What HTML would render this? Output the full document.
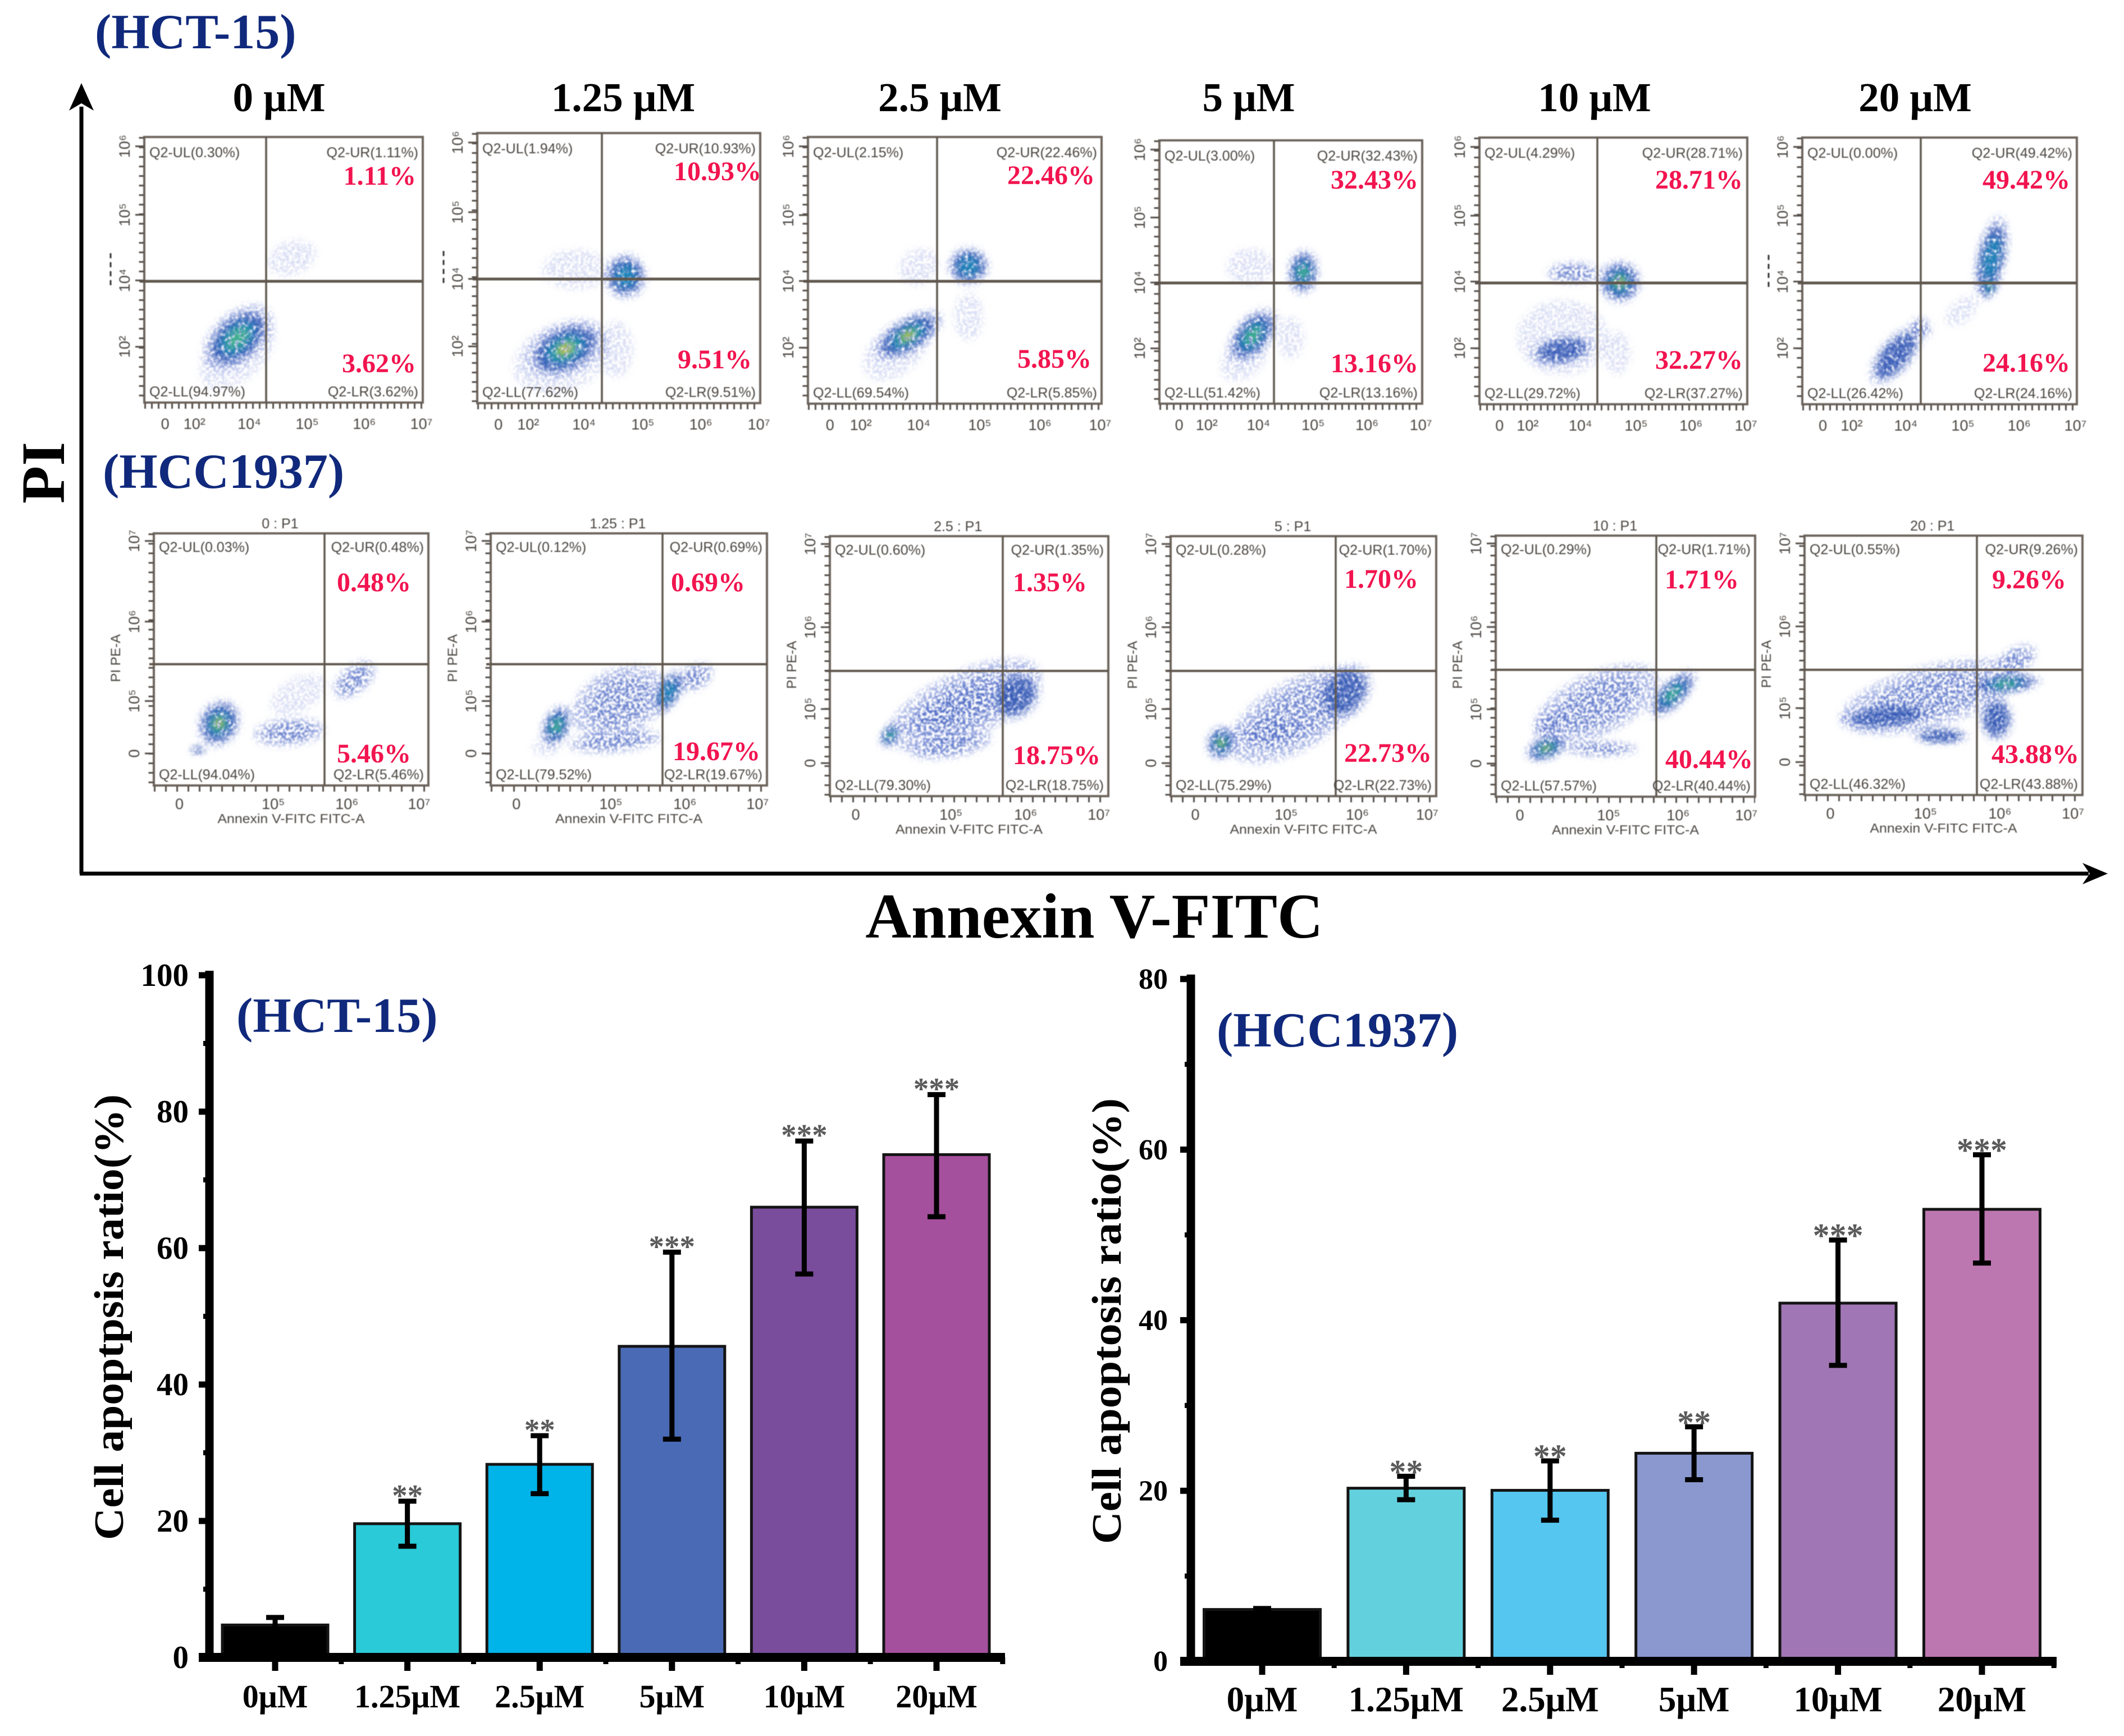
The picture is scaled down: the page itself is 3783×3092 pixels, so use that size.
<!DOCTYPE html>
<html lang="en">
<head>
<meta charset="utf-8">
<title>Apoptosis flow cytometry and bar charts</title>
<style>
html,body{margin:0;padding:0;background:#fff;}
svg{display:block;font-family:"Liberation Serif",serif;}
</style>
</head>
<body>
<svg id="fig" xmlns="http://www.w3.org/2000/svg" width="3783" height="3092" viewBox="0 0 3783 3092">
  <defs>
    <filter id="grain" x="-5%" y="-5%" width="110%" height="110%" color-interpolation-filters="sRGB">
      <feGaussianBlur in="SourceGraphic" stdDeviation="6" result="b"/>
      <feTurbulence type="fractalNoise" baseFrequency=".2" numOctaves="2" seed="4" result="n"/>
      <feColorMatrix in="n" type="matrix" values="0 0 0 0 0  0 0 0 0 0  0 0 0 0 0  6 0 0 0 -2.5" result="m"/>
      <feComposite in="b" in2="m" operator="in" result="c"/>
      <feGaussianBlur in="c" stdDeviation="1.1"/>
    </filter>
    <filter id="core" x="-5%" y="-5%" width="110%" height="110%" color-interpolation-filters="sRGB">
      <feGaussianBlur in="SourceGraphic" stdDeviation="6" result="b"/>
      <feTurbulence type="fractalNoise" baseFrequency=".16" numOctaves="2" seed="9" result="n"/>
      <feColorMatrix in="n" type="matrix" values="0 0 0 0 0  0 0 0 0 0  0 0 0 0 0  4 0 0 0 -1.2" result="m"/>
      <feComposite in="b" in2="m" operator="in" result="c"/>
      <feGaussianBlur in="c" stdDeviation="1"/>
    </filter>
    <filter id="soft" x="-2%" y="-2%" width="104%" height="104%"><feGaussianBlur stdDeviation="0.9"/></filter>
    <filter id="softer" x="-2%" y="-2%" width="104%" height="104%"><feGaussianBlur stdDeviation="0.8"/></filter>
  </defs>

  <text x="169" y="86" font-size="88" font-weight="bold" fill="#10297c">(HCT-15)</text>
  <text x="183" y="869" font-size="88" font-weight="bold" fill="#10297c">(HCC1937)</text>
  <text transform="translate(114,842) rotate(-90)" text-anchor="middle" font-size="110" font-weight="bold" fill="#000">PI</text>
  <text x="1949" y="1670" text-anchor="middle" font-size="113" font-weight="bold" fill="#000">Annexin V-FITC</text>

  <g>
    <line x1="145" y1="190" x2="145" y2="1556" stroke="#000" stroke-width="7"/>
    <path d="M145 148 L167 197 L145 184 L123 197 Z" fill="#000"/>
  </g>
  <g>
    <line x1="142" y1="1556" x2="3720" y2="1556" stroke="#000" stroke-width="7"/>
    <path d="M3754 1556 L3709 1537 L3722 1556 L3709 1575 Z" fill="#000"/>
  </g>
  <g id="flow"></g>
  <g id="bars"></g>
</svg>

<script>
/* ---------- bar chart data ---------- */
const categories = ['0μM', '1.25μM', '2.5μM', '5μM', '10μM', '20μM'];
const hctValues = [4.75, 19.6, 28.3, 45.6, 66.0, 73.7];
const hctErrHigh = [5.85, 22.9, 32.5, 59.4, 75.7, 82.5];
const hctErrLow = [4.2, 16.3, 24.0, 32.0, 56.2, 64.6];
const hctStars = ['', '**', '**', '***', '***', '***'];
const hctTicks = [0, 20, 40, 60, 80, 100];
const hctMinor = [10, 30, 50, 70, 90];
const hccValues = [6.08, 20.3, 20.05, 24.4, 42.0, 53.0];
const hccErrHigh = [6.2, 21.7, 23.5, 27.5, 49.4, 59.4];
const hccErrLow = [5.9, 18.95, 16.55, 21.3, 34.7, 46.7];
const hccStars = ['', '**', '**', '**', '***', '***'];
const hccTicks = [0, 20, 40, 60, 80];
const hccMinor = [10, 30, 50, 70];
const hctColors = ['#000000', '#2acad8', '#00b3e8', '#4a6ab5', '#7a4c9c', '#a5509c'];
const hccColors = ['#000000', '#63d1dd', '#55c6ef', '#8a98cf', '#a176b4', '#bc76b0'];

/* ---------- flow cytometry data ---------- */
const doseTitles = ['0 μM', '1.25 μM', '2.5 μM', '5 μM', '10 μM', '20 μM'];
const doseCenters = [497, 1110, 1674, 2224, 2840, 3411];
const gateTitles = ['0 : P1', '1.25 : P1', '2.5 : P1', '5 : P1', '10 : P1', '20 : P1'];
/* quadrant percentages: UL, UR, LL, LR */
const quadrantsHct = [
  ['0.30','1.11','94.97','3.62'], ['1.94','10.93','77.62','9.51'], ['2.15','22.46','69.54','5.85'],
  ['3.00','32.43','51.42','13.16'], ['4.29','28.71','29.72','37.27'], ['0.00','49.42','26.42','24.16']
];
const quadrantsHcc = [
  ['0.03','0.48','94.04','5.46'], ['0.12','0.69','79.52','19.67'], ['0.60','1.35','79.30','18.75'],
  ['0.28','1.70','75.29','22.73'], ['0.29','1.71','57.57','40.44'], ['0.55','9.26','46.32','43.88']
];
const redLowerHct = ['3.62', '9.51', '5.85', '13.16', '32.27', '24.16'];
const redLowerHcc = ['5.46', '19.67', '18.75', '22.73', '40.44', '43.88'];
/* panel frames: left, right, top, bottom, gateX, gateY */
const framesHct = [
  [257,753,244,717,474,501], [850,1354,237,718,1072,497], [1439,1962,244,719,1669,501],
  [2065,2533,250,719,2269,504], [2635,3112,245,720,2845,504], [3210,3699,245,720,3421,504]
];
const framesHcc = [
  [274,763,950,1399,578,1183], [874,1366,950,1399,1180,1183], [1478,1974,955,1418,1786,1195],
  [2085,2558,955,1418,2379,1195], [2664,3126,954,1419,2950,1193], [3214,3709,954,1416,3521,1193]
];
/* red label anchors: upper right x, upper base y, lower right x, lower base y */
const redAnchorsHct = [
  [741,329,741,663], [1356,321,1339,656], [1950,328,1944,655],
  [2526,336,2526,663], [3104,336,3104,657], [3687,336,3687,662]
];
const redAnchorsHcc = [
  [732,1053,732,1358], [1327,1053,1354,1354], [1936,1053,1960,1361],
  [2526,1047,2550,1357], [3097,1048,3122,1368], [3680,1048,3703,1359]
];
/* event density regions in panel units: cx, cy, rx, ry, rotation, density level */
const densityHct = [
  [[.335,.757,.15,.09,-42,3], [.53,.455,.09,.06,-20,-1], [.335,.82,.16,.09,-40,-1]],
  [[.311,.80,.15,.09,-25,4], [.524,.53,.075,.08,0,2], [.35,.505,.12,.07,0,-1], [.49,.80,.06,.10,0,-1], [.30,.83,.18,.12,-20,-1]],
  [[.34,.745,.135,.06,-32,4], [.547,.484,.07,.065,0,2], [.378,.486,.07,.06,-30,-1], [.547,.674,.05,.08,0,-1], [.30,.80,.13,.08,-40,-1]],
  [[.355,.742,.125,.07,-50,3], [.547,.50,.085,.06,-85,3], [.346,.48,.09,.07,0,-1], [.50,.75,.05,.08,0,-1], [.32,.83,.10,.07,-40,-1]],
  [[.524,.541,.08,.08,0,4], [.308,.798,.12,.055,-10,1], [.352,.507,.10,.04,0,0], [.514,.807,.05,.08,0,-1], [.31,.75,.17,.14,0,-1]],
  [[.689,.45,.155,.055,-78,2], [.681,.554,.05,.03,-70,3], [.34,.817,.13,.06,-50,1], [.43,.716,.04,.04,-40,0], [.58,.65,.07,.04,-40,-1]]
];
const densityHcc = [
  [[.237,.753,.09,.075,-60,4], [.493,.788,.13,.05,-5,0], [.73,.58,.09,.05,-40,0], [.526,.64,.11,.06,-30,-1], [.16,.86,.03,.012,-5,1]],
  [[.238,.764,.08,.05,-65,3], [.642,.63,.09,.045,-60,2], [.45,.824,.17,.04,-5,0], [.466,.668,.18,.12,-25,0], [.2,.85,.05,.03,0,-1], [.74,.57,.07,.045,-30,0]],
  [[.216,.765,.05,.028,-55,3], [.482,.65,.30,.12,-25,0], [.45,.66,.2,.07,-25,0], [.666,.615,.10,.08,-40,1], [.434,.803,.15,.045,-10,0]],
  [[.19,.795,.065,.055,-70,4], [.368,.75,.14,.05,-10,0], [.655,.60,.12,.09,-50,1], [.47,.69,.28,.13,-30,0]],
  [[.195,.814,.085,.045,-20,4], [.682,.606,.12,.05,-45,3], [.407,.817,.14,.028,0,0], [.39,.645,.26,.12,-25,0], [.22,.72,.08,.05,-30,0]],
  [[.723,.571,.13,.035,-5,3], [.69,.706,.06,.08,0,1], [.293,.697,.17,.045,-5,1], [.49,.773,.10,.028,0,1], [.45,.62,.33,.11,-15,0], [.76,.48,.08,.045,-30,0]]
];
/* axis tick labels */
const hctXTicks = ['0', '10²', '10⁴', '10⁵', '10⁶', '10⁷'];
const hctXTickAt = [.075, .18, .377, .585, .79, .995];
const hctYTicks = ['10⁶', '10⁵', '10⁴', '10²'];
const hctYTickAt = [.035, .293, .54, .79];
const hccXTicks = ['0', '10⁵', '10⁶', '10⁷'];
const hccXTickAt = [.093, .435, .703, .966];
const hccYTicks = ['10⁷', '10⁶', '10⁵', '0'];
const hccYTickAt = [.03, .35, .665, .873];
const clippedAxisMarks = [0, 1, 5];

const NS = 'http://www.w3.org/2000/svg';
function mk(tag, parent, props, txt) {
  const el = document.createElementNS(NS, tag);
  for (const k in props) el.setAttribute(k, props[k]);
  if (txt !== undefined) el.textContent = txt;
  parent.appendChild(el);
  return el;
}

/* ---------- flow panels ---------- */
const flowRoot = document.getElementById('flow');
const SANS = '"Liberation Sans","DejaVu Sans",sans-serif';

function drawDensity(g, regions, L, W, T, H) {
  const haze = mk('g', g, { filter: 'url(#grain)' });
  
  
  const core = mk('g', g, { filter: 'url(#core)' });
  
  
  regions.forEach(function (r) {
    const cx = L + r[0] * W, cy = T + r[1] * H, rx = r[2] * W, ry = r[3] * W, lv = r[5];
    const tf = 'rotate(' + r[4] + ' ' + cx + ' ' + cy + ')';
    function ell(parent, s, fill, op) {
      const e = mk('ellipse', parent, { cx: cx, cy: cy, rx: rx * s, ry: ry * s, fill: fill, 'fill-opacity': op, transform: tf });
      
      
    }
    if (lv < 0) { ell(haze, 1, '#8494dc', .3); return; }
    ell(haze, 1, '#6a80d2', .55);
    ell(haze, .68, '#3f5fbd', .55);
    if (lv >= 1) ell(core, .75, '#2f55b2', .85);
    if (lv >= 2) ell(core, .5, '#1a86b6', .95);
    if (lv >= 3) ell(core, .32, '#3fb08c', 1);
    if (lv >= 4) ell(core, .17, '#e6c63a', 1);
  });
}

function drawPanel(frame, quad, redLow, anchor, density, idx, isHcc) {
  const L = frame[0], R = frame[1], T = frame[2], B = frame[3], GX = frame[4], GY = frame[5];
  const W = R - L, H = B - T;
  const g = mk('g', flowRoot, {});
  
  

  drawDensity(g, density, L, W, T, H);

  const art = mk('g', g, { filter: 'url(#soft)' });
  
  
  const frameRect = mk('rect', art, { x: L, y: T, width: W, height: H, fill: 'none', stroke: '#6d655d', 'stroke-width': 4 });
  
  
  const vGate = mk('line', art, { x1: GX, y1: T, x2: GX, y2: B, stroke: '#5e564e', 'stroke-width': 3.5 });
  
  
  const hGate = mk('line', art, { x1: L - 8, y1: GY, x2: R, y2: GY, stroke: '#5e564e', 'stroke-width': isHcc ? 4 : 5 });
  
  
  const xMinor = mk('line', art, { x1: L, y1: B + 6, x2: R, y2: B + 6, stroke: '#57504a', 'stroke-width': 10, 'stroke-dasharray': '3 ' + (isHcc ? 17 : 9) });
  
  
  const yMinor = mk('line', art, { x1: L - 5, y1: T, x2: L - 5, y2: B, stroke: '#57504a', 'stroke-width': 9, 'stroke-dasharray': '3 14' });
  
  

  const xT = isHcc ? hccXTicks : hctXTicks, xA = isHcc ? hccXTickAt : hctXTickAt;
  const yT = isHcc ? hccYTicks : hctYTicks, yA = isHcc ? hccYTickAt : hctYTickAt;
  const labels = mk('g', g, { filter: 'url(#softer)', 'font-family': SANS, fill: '#4a4540' });
  
  
  xT.forEach(function (t, i) {
    const e = mk('text', labels, { x: L + xA[i] * W, y: B + (isHcc ? 42 : 47), 'text-anchor': 'middle', 'font-size': 27 }, t);
    
    
  });
  yT.forEach(function (t, i) {
    const y = T + yA[i] * H;
    const tick = mk('line', art, { x1: L - 16, y1: y, x2: L, y2: y, stroke: '#57504a', 'stroke-width': 3 });
    
    
    const e = mk('text', labels, { transform: 'translate(' + (L - 26) + ',' + y + ') rotate(-90)', 'text-anchor': 'middle', 'font-size': 27 }, t);
    
    
  });

  const c = [
    ['Q2-UL(' + quad[0] + '%)', L + 9, T + (isHcc ? 33 : 36), 'start'],
    ['Q2-UR(' + quad[1] + '%)', R - 8, T + (isHcc ? 33 : 36), 'end'],
    ['Q2-LL(' + quad[2] + '%)', L + 9, B - 11, 'start'],
    ['Q2-LR(' + quad[3] + '%)', R - 8, B - 11, 'end']
  ];
  c.forEach(function (q) {
    const e = mk('text', labels, { x: q[1], y: q[2], 'text-anchor': q[3], 'font-size': 25 }, q[0]);
    
    
  });

  if (isHcc) {
    const ttl = mk('text', labels, { x: L + .46 * W, y: T - 9, 'text-anchor': 'middle', 'font-size': 25 }, gateTitles[idx]);
    
    
    const yl = mk('text', labels, { transform: 'translate(' + (L - 60) + ',' + (T + .495 * H) + ') rotate(-90)', 'text-anchor': 'middle', 'font-size': 24 }, 'PI PE-A');
    
    
    const xl = mk('text', labels, { x: L + .5 * W, y: B + 67, 'text-anchor': 'middle', 'font-size': 23, textLength: 262, lengthAdjust: 'spacingAndGlyphs' }, 'Annexin V-FITC FITC-A');
    
    
  } else if (clippedAxisMarks.indexOf(idx) >= 0) {
    const mark = mk('line', art, { x1: L - 60, y1: GY - 50, x2: L - 60, y2: GY + 7, stroke: '#333', 'stroke-width': 3, 'stroke-dasharray': '9 7' });
    
    
  }

  const up = mk('text', g, { x: anchor[0], y: anchor[1], 'text-anchor': 'end', 'font-size': 48, 'font-weight': 'bold', fill: '#f2144f' }, quad[1] + '%');
  
  
  const low = mk('text', g, { x: anchor[2], y: anchor[3], 'text-anchor': 'end', 'font-size': 48, 'font-weight': 'bold', fill: '#f2144f' }, redLow + '%');
  
  
}

doseTitles.forEach(function (t, i) {
  const e = mk('text', flowRoot, { x: doseCenters[i], y: 198, 'text-anchor': 'middle', 'font-size': 73, 'font-weight': 'bold', fill: '#000' }, t);
  
  
  drawPanel(framesHct[i], quadrantsHct[i], redLowerHct[i], redAnchorsHct[i], densityHct[i], i, false);
  drawPanel(framesHcc[i], quadrantsHcc[i], redLowerHcc[i], redAnchorsHcc[i], densityHcc[i], i, true);
});

/* ---------- bar charts ---------- */
const barRoot = document.getElementById('bars');

function drawBarChart(o) {
  const g = mk('g', barRoot, {});
  
  
  const y = function (v) { return o.y0 - v * o.unit; };
  const x = function (i) { return o.x0 + i * o.step; };
  const top = y(o.ticks[o.ticks.length - 1]);

  o.values.forEach(function (v, i) {
    const bar = mk('rect', g, { x: x(i) - o.bw / 2, y: y(v), width: o.bw, height: y(0) - y(v), fill: o.colors[i], stroke: '#141414', 'stroke-width': 5 });
    
    
  });

  const yAxis = mk('line', g, { x1: o.axisX, y1: top - 8, x2: o.axisX, y2: y(0) + 8, stroke: '#000', 'stroke-width': 15 });
  
  
  const xAxis = mk('line', g, { x1: o.axisX - 19, y1: y(0), x2: o.axisEnd, y2: y(0), stroke: '#000', 'stroke-width': 16 });
  
  

  o.ticks.forEach(function (t) {
    const tick = mk('line', g, { x1: o.axisX - 19, y1: y(t), x2: o.axisX, y2: y(t), stroke: '#000', 'stroke-width': 11 });
    
    
    const lab = mk('text', g, { x: o.tickRight, y: y(t) + o.tickFont * .33, 'text-anchor': 'end', 'font-size': o.tickFont, 'font-weight': 'bold', fill: '#000' }, t);
    
    
  });
  o.minor.forEach(function (t) {
    const tick = mk('line', g, { x1: o.axisX - 11, y1: y(t), x2: o.axisX, y2: y(t), stroke: '#000', 'stroke-width': 9 });
    
    
  });

  o.categories.forEach(function (c, i) {
    const tick = mk('line', g, { x1: x(i), y1: y(0), x2: x(i), y2: y(0) + 24, stroke: '#000', 'stroke-width': 11 });
    
    
    const minor = mk('line', g, { x1: x(i) + o.step / 2, y1: y(0), x2: x(i) + o.step / 2, y2: y(0) + 12, stroke: '#000', 'stroke-width': 9 });
    
    
    const lab = mk('text', g, { x: x(i), y: o.catBase, 'text-anchor': 'middle', 'font-size': o.catFont, 'font-weight': 'bold', fill: '#000' }, c);
    
    
  });

  o.values.forEach(function (v, i) {
    const hi = y(o.high[i]), lo = y(o.low[i]);
    const stem = mk('line', g, { x1: x(i), y1: hi, x2: x(i), y2: lo, stroke: '#000', 'stroke-width': 9 });
    
    
    const capT = mk('line', g, { x1: x(i) - 16, y1: hi, x2: x(i) + 16, y2: hi, stroke: '#000', 'stroke-width': 9 });
    
    
    if (i > 0) {
      const capB = mk('line', g, { x1: x(i) - 16, y1: lo, x2: x(i) + 16, y2: lo, stroke: '#000', 'stroke-width': 9 });
      
      
    }
    if (o.stars[i]) {
      const st = mk('text', g, { x: x(i), y: hi + o.starOffset, 'text-anchor': 'middle', 'font-size': o.starFont, 'font-weight': 'bold', fill: '#5a5a5a' }, o.stars[i]);
      
      
    }
  });

  const yt = mk('text', g, { transform: 'translate(' + o.titleX + ',' + o.titleY + ') rotate(-90)', 'text-anchor': 'middle', 'font-size': 74, 'font-weight': 'bold', fill: '#000', textLength: 794, lengthAdjust: 'spacingAndGlyphs' }, o.yTitle);
  
  
  const ct = mk('text', g, { x: o.labelX, y: o.labelY, 'font-size': o.labelFont, 'font-weight': 'bold', fill: '#10297c' }, o.label);
  
  
}

drawBarChart({
  name: 'hct15-bar-chart', categories: categories, values: hctValues, high: hctErrHigh, low: hctErrLow,
  stars: hctStars, ticks: hctTicks, minor: hctMinor, colors: hctColors,
  y0: 2952, unit: 12.15, x0: 490, step: 235.6, bw: 188, axisX: 373, axisEnd: 1790, tickRight: 336, tickFont: 57,
  catBase: 3041, catFont: 58, starFont: 55, starOffset: 8, titleX: 219, titleY: 2346,
  yTitle: 'Cell apoptpsis ratio(%)', label: '(HCT-15)', labelX: 421, labelY: 1838, labelFont: 88
});
drawBarChart({
  name: 'hcc1937-bar-chart', categories: categories, values: hccValues, high: hccErrHigh, low: hccErrLow,
  stars: hccStars, ticks: hccTicks, minor: hccMinor, colors: hccColors,
  y0: 2959, unit: 15.19, x0: 2248, step: 256.4, bw: 207, axisX: 2121, axisEnd: 3663, tickRight: 2080, tickFont: 52,
  catBase: 3048, catFont: 63, starFont: 60, starOffset: 12, titleX: 1996, titleY: 2353,
  yTitle: 'Cell apoptosis ratio(%)', label: '(HCC1937)', labelX: 2167, labelY: 1864, labelFont: 88
});
</script>
</body>
</html>
